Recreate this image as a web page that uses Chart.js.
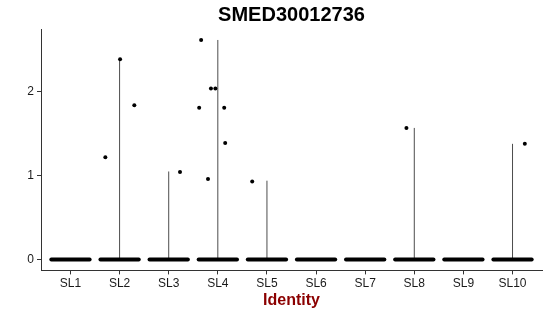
<!DOCTYPE html>
<html>
<head>
<meta charset="utf-8">
<script src="https://cdn.jsdelivr.net/npm/chart.js@4"></script>
<style>
  html, body { margin: 0; padding: 0; background: #fff; }
  #wrap { width: 550px; height: 316px; }
</style>
</head>
<body>
<div id="wrap"><canvas id="vln"></canvas></div>
<script>
// groupes et valeurs
const categories = ['SL1', 'SL2', 'SL3', 'SL4', 'SL5', 'SL6', 'SL7', 'SL8', 'SL9', 'SL10'];
const violinMax = [0, 2.39, 1.05, 2.62, 0.94, 0, 0, 1.57, 0, 1.38];
const yTicks = [0, 1, 2];

// points non nuls : groupe, décalage du jitter, valeur
const pointGroup  = [2, 2, 2, 3, 4, 4, 4, 4, 4, 4, 4, 5, 8, 10];
const pointJitter = [-0.29, 0.01, 0.30, 0.23, -0.34, -0.14, -0.05, -0.38, 0.13, 0.15, -0.20, -0.30, -0.16, 0.25];
const pointValue  = [1.22, 2.39, 1.84, 1.045, 2.62, 2.04, 2.04, 1.81, 1.81, 1.39, 0.96, 0.93, 1.57, 1.38];

const chartTitle = 'SMED30012736';
const jitterWidth = 0.39;

const datasets = [];

// bandes de zéros (beaucoup de cellules à 0)
categories.forEach((c, i) => {
    datasets.push({
        type: 'line',
        data: [{ x: i + 1 - jitterWidth, y: 0 }, { x: i + 1 + jitterWidth, y: 0 }],
        borderColor: '#000',
        borderWidth: 4,
        borderCapStyle: 'round',
        pointRadius: 0,
        order: 2
    });
});

// violons écrasés en traits verticaux
violinMax.forEach((m, i) => {
    if (m <= 0) return;
    datasets.push({
        type: 'line',
        data: [{ x: i + 1, y: 0 }, { x: i + 1, y: m }],
        borderColor: 'rgba(0,0,0,0.7)',
        borderWidth: 1,
        pointRadius: 0,
        order: 3
    });
});

datasets.push({
    type: 'scatter',
    data: pointValue.map((v, k) => ({ x: pointGroup[k] + pointJitter[k], y: v })),
    backgroundColor: '#000',
    borderWidth: 0,
    pointRadius: 2,
    order: 1
});

// titre centré sur la zone du graphique (comme ggplot)
const panelTitle = {
    id: 'panelTitle',
    afterDraw(chart) {
        const { ctx, chartArea } = chart;
        ctx.save();
        ctx.fillStyle = '#000';
        ctx.font = 'bold 20px "Liberation Sans", Arial, sans-serif';
        ctx.textAlign = 'center';
        ctx.textBaseline = 'middle';
        ctx.fillText(chartTitle, (chartArea.left + chartArea.right) / 2, 15);
        ctx.restore();
    }
};

const tickFont = { family: 'Liberation Sans, Arial, sans-serif', size: 12 };

new Chart(document.getElementById('vln'), {
    type: 'scatter',
    data: { datasets: datasets },
    plugins: [panelTitle],
    options: {
        responsive: true,
        maintainAspectRatio: false,
        animation: false,
        layout: { padding: { left: 0, right: 8, top: 29, bottom: 6 } },
        plugins: {
            legend: { display: false },
            tooltip: { enabled: false },
            title: { display: false }
        },
        scales: {
            x: {
                type: 'linear',
                min: 0.4,
                max: 10.6,
                afterBuildTicks: axis => { axis.ticks = categories.map((c, i) => ({ value: i + 1 })); },
                ticks: {
                    color: '#1a1a1a',
                    font: tickFont,
                    padding: 2,
                    maxRotation: 0,
                    callback: v => categories[v - 1]
                },
                grid: { drawOnChartArea: false, drawTicks: true, tickLength: 4, color: '#333' },
                border: { display: true, color: '#333', width: 1 },
                title: {
                    display: true,
                    text: 'Identity',
                    color: '#8B0000',
                    font: { family: 'Liberation Sans, Arial, sans-serif', size: 16, weight: 'bold' },
                    padding: { top: -2, bottom: 0 }
                }
            },
            y: {
                type: 'linear',
                min: -0.131,
                max: 2.751,
                afterBuildTicks: axis => { axis.ticks = yTicks.map(v => ({ value: v })); },
                afterFit: axis => { axis.width = 41; },
                ticks: { color: '#1a1a1a', font: tickFont, padding: 3 },
                grid: { drawOnChartArea: false, drawTicks: true, tickLength: 4, color: '#333' },
                border: { display: true, color: '#333', width: 1 }
            }
        }
    }
});
</script>
</body>
</html>
